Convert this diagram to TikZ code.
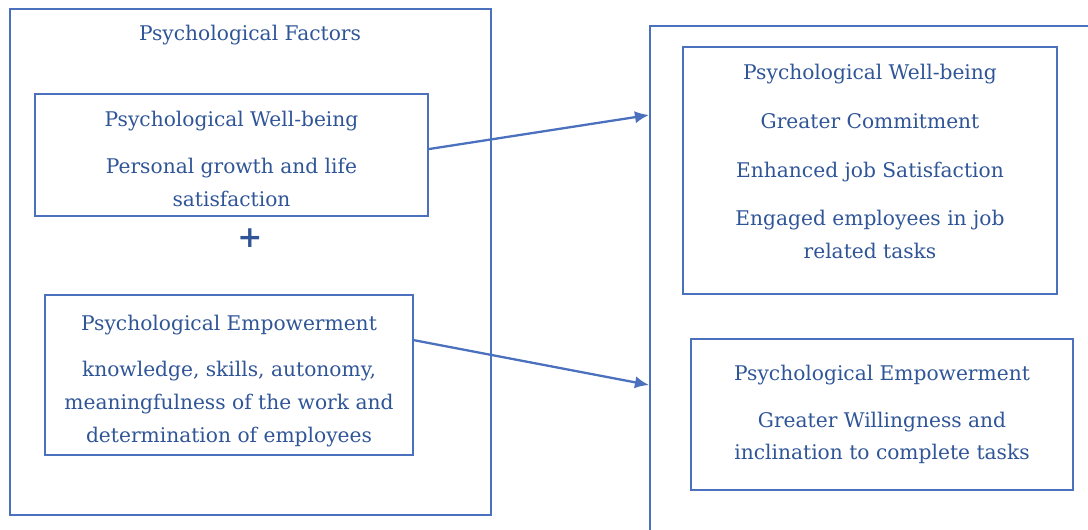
\documentclass[tikz,border=0pt]{standalone}
\usepackage{fontspec}
\setmainfont{DejaVu Serif}
\usetikzlibrary{arrows.meta,positioning}
\definecolor{framecol}{HTML}{4A70BE}
\definecolor{txtcol}{HTML}{2F5597}

\begin{document}
\begin{tikzpicture}[x=0.02cm,y=-0.02cm,
    box/.style={draw=framecol,line width=1.3pt,text=txtcol,align=center,inner sep=0pt},
    flow/.style={draw=framecol,line width=1.3pt,-{Latex[length=8pt,width=7pt]}},
    font=\fontsize{11.5}{18.7}\selectfont]
    \useasboundingbox (0,0) rectangle (1088,530);
    \clip (0,0) rectangle (1088,530);
    \draw[framecol,line width=1.3pt] (10,9) rectangle (491,515);
    \draw[framecol,line width=1.3pt] (650,570) |- (1120,26);
    \node[text=txtcol] (factors) at (250,35) {Psychological Factors};
    \node[box,minimum width=7.86cm,minimum height=2.44cm] (wbL) at (231.5,155)
        {\rule{0pt}{13.3pt}Psychological Well-being\\[8pt] Personal growth and life\\ satisfaction};
    \node[text=txtcol,font=\bfseries\fontsize{17}{17}\selectfont] (plus) at (250,238) {+};
    \node[box,minimum width=7.36cm,minimum height=3.2cm] (empL) at (229,375)
        {\rule{0pt}{15.5pt}Psychological Empowerment\\[8pt] knowledge, skills, autonomy,\\ meaningfulness of the work and\\ determination of employees};
    \node[box,minimum width=7.48cm,minimum height=4.94cm] (wbR) at (870,170.5)
        {Psychological Well-being\\[9pt] Greater Commitment\\[9pt] Enhanced job Satisfaction\\[9pt] Engaged employees in job\\ related tasks\rule[-10pt]{0pt}{10pt}};
    \node[box,minimum width=7.64cm,minimum height=3.02cm] (empR) at (882,414.5)
        {Psychological Empowerment\\[8pt] Greater Willingness and\\ inclination to complete tasks};
    \coordinate (inA) at (649,115);
    \coordinate (inB) at (649,385);
    \draw[flow] ([yshift=3.4pt]wbL.east) -- (inA);
    \draw[flow] ([yshift=19.8pt]empL.east) -- (inB);
\end{tikzpicture}
\end{document}
